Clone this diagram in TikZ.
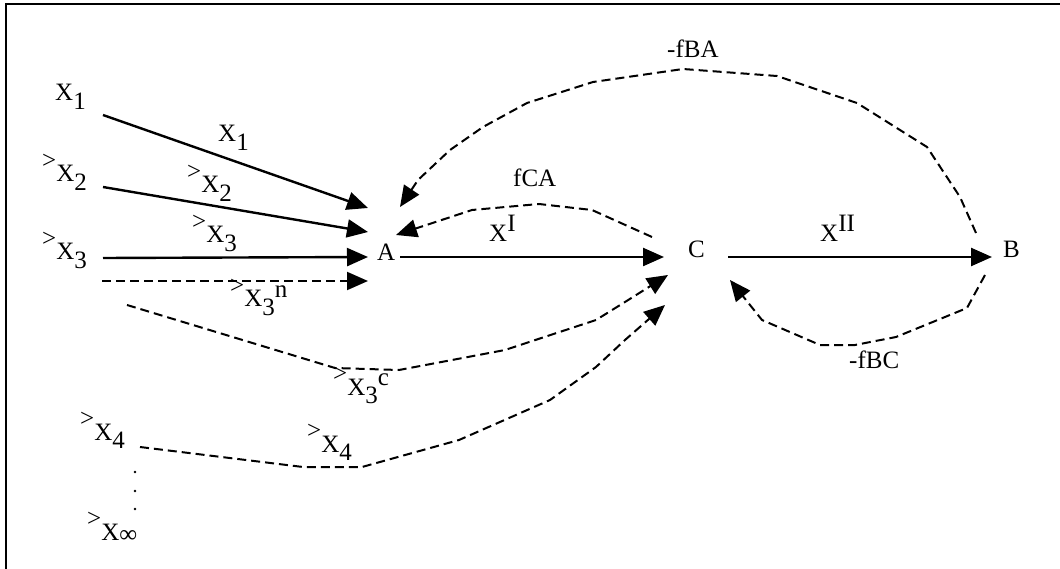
\documentclass[tikz,border=0pt]{standalone}
\usepackage{fontspec}
\setmainfont{Liberation Serif}
\usetikzlibrary{arrows.meta}
\newcommand{\lowr}[1]{\raisebox{-0.35em}{#1}}
\newcommand{\highr}[1]{\raisebox{0.4em}{#1}}
\newcommand{\rgt}{\raisebox{0.55em}{>}}
\tikzset{
  lbl/.style={anchor=base west, inner sep=0pt, font=\fontsize{25}{30}\selectfont},
  solidarrow/.style={line width=2.4pt, -{Triangle[length=21pt,width=18pt]}},
  dasharrow/.style={line width=2pt, dash pattern=on 9pt off 5pt, -{Triangle[length=21pt,width=18pt]}},
  frameline/.style={line width=1.8pt}
}
\begin{document}
\begin{tikzpicture}[x=1pt,y=-1pt]
\useasboundingbox (0,0) rectangle (1060,569);
\draw[frameline] (6,569) -- (6,4) -- (1060,4);

% nodes
\node[lbl] (A) at (377,261) {A};
\node[lbl] (C) at (688,258) {C};
\node[lbl] (B) at (1003,258) {B};

% source labels
\node[lbl] (x1) at (55,101) {X\lowr{1}};
\node[lbl] (x2) at (42,182) {\rgt X\lowr{2}};
\node[lbl] (x3) at (42,260) {\rgt X\lowr{3}};
\node[lbl] (x4) at (80,440) {\rgt X\lowr{4}};
\node[lbl] (xinf) at (87,540) {\rgt X\raisebox{-2pt}{∞}};

% edge labels
\node[lbl] (lx1) at (218,142) {X\lowr{1}};
\node[lbl] (lx2) at (187,193) {\rgt X\lowr{2}};
\node[lbl] (lx3) at (192,243) {\rgt X\lowr{3}};
\node[lbl] (lx3n) at (230,307) {\rgt X\lowr{3}\highr{n}};
\node[lbl] (lx3c) at (333,395) {\rgt X\lowr{3}\highr{c}};
\node[lbl] (lx4) at (307,452) {\rgt X\lowr{4}};
\node[lbl] (lxi) at (489,242) {X\highr{I}};
\node[lbl] (lxii) at (820,242) {X\highr{II}};
\node[lbl] (lfca) at (513,187) {fCA};
\node[lbl] (lfba) at (667,58) {-fBA};
\node[lbl] (lfbc) at (849,368) {-fBC};

% dots
\fill (135,472) circle (1.4pt);
\fill (135,491) circle (1.4pt);
\fill (135,509) circle (1.4pt);

% endpoints
\coordinate (s1) at (103,115);
\coordinate (s2) at (103,187);
\coordinate (s3) at (103,258);
\coordinate (s3n) at (102,281);
\coordinate (s3c) at (127,305);
\coordinate (s4) at (140,447);
\coordinate (a1) at (368,208);
\coordinate (a2) at (368,232);
\coordinate (a3) at (368,257);
\coordinate (a3n) at (368,281);
\coordinate (aout) at (400,257);
\coordinate (cin) at (664,257);
\coordinate (cout) at (728,257);
\coordinate (bin) at (992,257);
\coordinate (afba) at (400,207);
\coordinate (afca) at (396,235);
\coordinate (cfca) at (652,237);
\coordinate (bfba) at (976,233);
\coordinate (bfbc) at (985,275);
\coordinate (cfbc) at (730,280);
\coordinate (c3c) at (668,275);
\coordinate (c4) at (665,305);

% solid arrows
\draw[solidarrow] (s1) -- (a1);
\draw[solidarrow] (s2) -- (a2);
\draw[solidarrow] (s3) -- (a3);
\draw[solidarrow] (aout) -- (cin);
\draw[solidarrow] (cout) -- (bin);

% dashed arrows
\draw[dasharrow] (s3n) -- (a3n);
\draw[dasharrow] (s3c) -- (335,368) -- (399,370) -- (505,350) -- (596,320) -- (625,302) -- (c3c);
\draw[dasharrow] (s4) -- (303,467) -- (362,467) -- (459,440) -- (550,400) -- (596,367) -- (625,340) -- (c4);
\draw[dasharrow] (cfca) -- (592,210) -- (539,204) -- (472,210) -- (afca);
\draw[dasharrow] (bfba) -- (960,197) -- (927,147) -- (857,103) -- (777,76) -- (683,69) -- (593,82) -- (527,103) -- (483,127) -- (450,150) -- (418,180) -- (afba);
\draw[dasharrow] (bfbc) -- (967,308) -- (896,337) -- (855,345) -- (820,345) -- (762,320) -- (cfbc);
\end{tikzpicture}
\end{document}
